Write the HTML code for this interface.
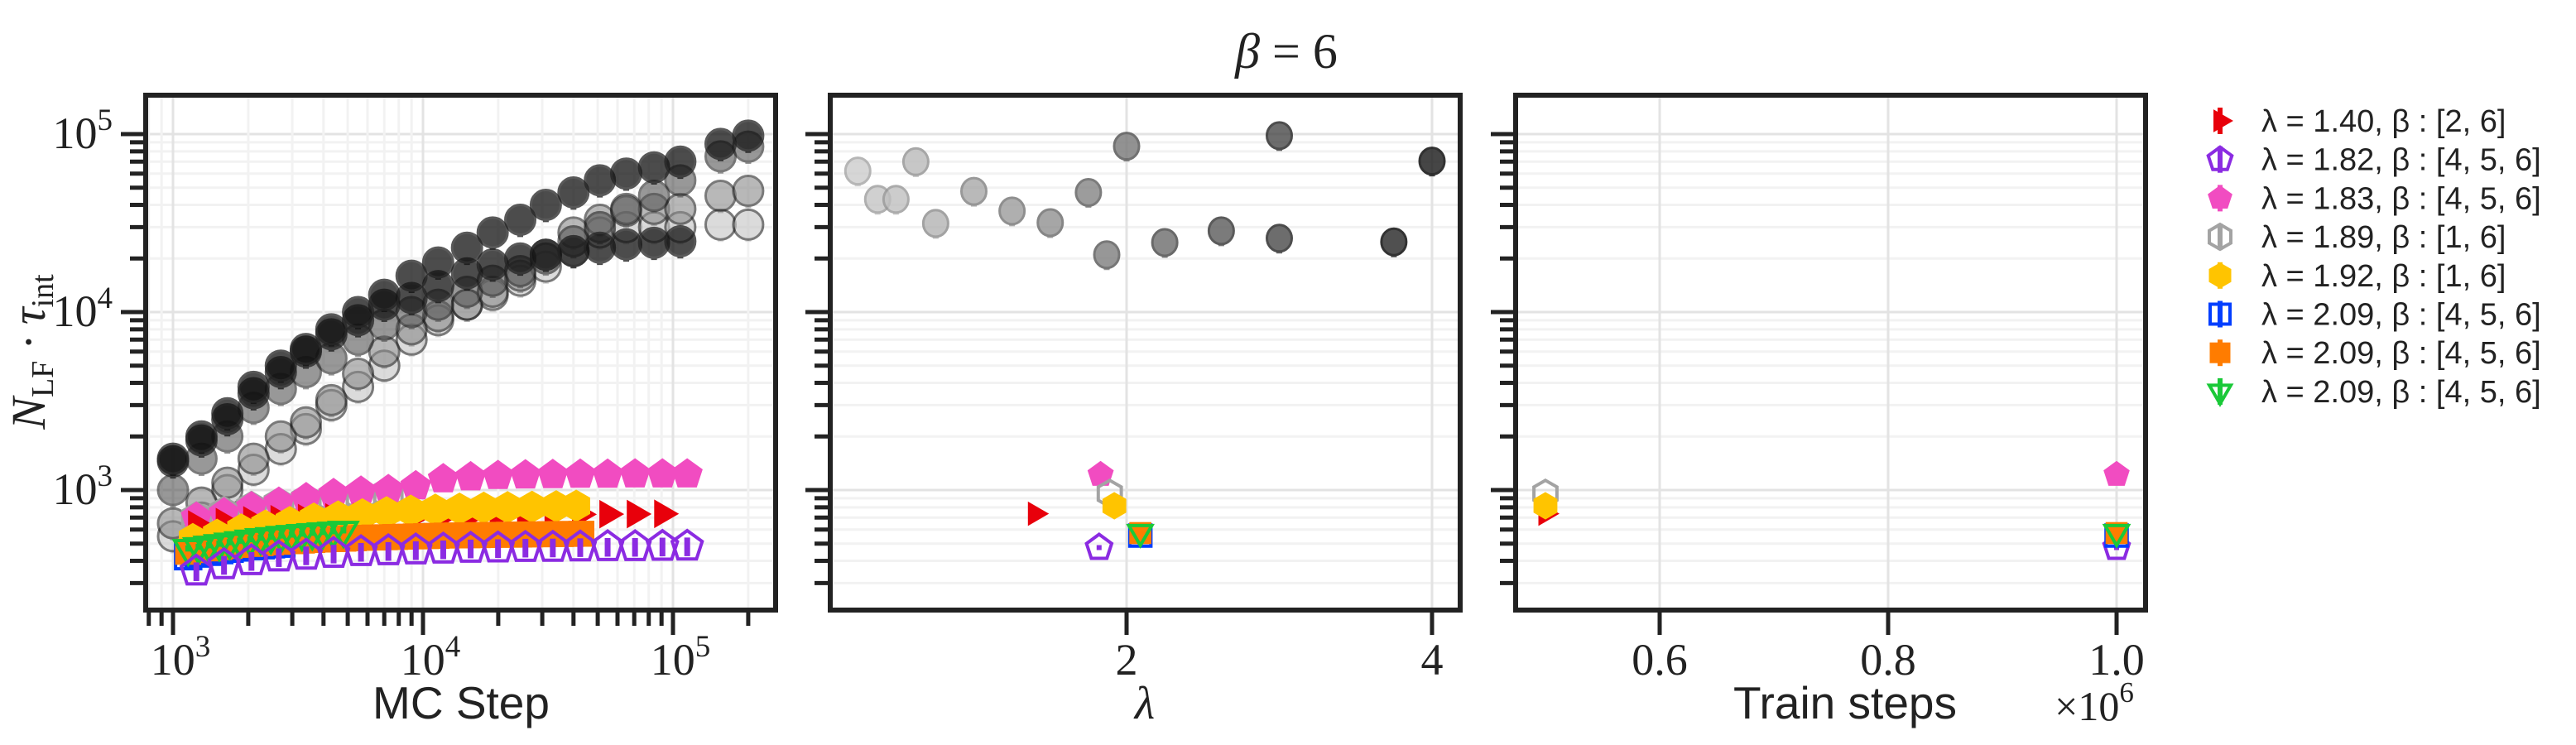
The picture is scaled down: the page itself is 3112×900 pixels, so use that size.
<!DOCTYPE html>
<html><head><meta charset="utf-8"><style>
html,body{margin:0;padding:0;background:#fff;}
svg{display:block;}
</style></head><body>
<svg id="fig" width="3112" height="900" viewBox="0 0 3112 900" xmlns="http://www.w3.org/2000/svg">
<rect width="3112" height="900" fill="#fff"/>
<g id="grid"></g>
<g id="marks"></g>
<g id="axes"></g>
<g id="legend"></g>
</svg>
<script>
// ---- data ----
const circX = [1000,1300,1650,2100,2700,3400,4300,5500,7000,9000,11500,15000,19000,24500,31000,40000,51000,65000,84000,107000,155000,200000];
const circA = [1500,2000,2700,3800,5000,6200,8000,10000,12500,16000,19000,23000,28000,33000,40000,47000,55000,60000,65000,70000,88000,98000];
const circB = [1450,1900,2500,3500,4600,6000,7500,9000,11000,12000,14000,16500,18500,20000,21000,22000,23000,24000,24500,25000];
const circC = [1000,1500,2000,2900,3700,4600,5500,7000,8500,10000,11000,13000,15000,17000,20000,25000,30000,38000,45000,55000,75000,85000];
const circD = [650,850,1100,1500,2000,2400,3200,4500,6000,8000,9500,11000,13000,16000,21000,28000,33000,37000,38000,38000,45000,48000];
const circE = [550,700,1000,1300,1700,2200,3000,3800,5000,7000,9000,11000,12500,15000,18000,22000,28000,30000,30000,30000,31000,31000];
const stepX = [1240,1600,2060,2650,3410,4390,5650,7270,9360,12050,15510,19960,25690,33060,42560,54780,70510,90760,114000];
const redY = [640,660,675,685,695,700,705,710,715,718,720,722,725,727,730,732,733,735];
const pinkY = [700,740,800,850,900,950,980,1000,1050,1150,1180,1200,1210,1215,1220,1220,1225,1225,1225];
const purpleY = [350,380,400,420,430,440,450,455,460,465,470,472,475,476,478,480,480,482,483];
const grayHexY = [690,740,790,830,870,900,930,960];
const yellowX = [1200,1500,1875,2340,2930,3660,4580,5720,7150,8940,11200,14000,17500,21800,27300,34100,41000];
const yellowY = [530,560,600,630,660,690,710,730,750,765,775,785,795,800,805,810,815];
const orangeX = [1150,1265,1392,1531,1684,1852,2037,2241,2465,2712,2983,3281,3609,3970,4367,4804,5284,5813,6394,7034,7737,8511,9362,10300,11330,12460,13700,15080,16580,18240,20070,22080,24280,26710,29380,32320,35550,39100,43010];
const orangeY = [450,460,470,478,485,492,498,503,508,512,516,520,524,527,530,533,536,539,541,543,545,547,549,551,553,555,556,557,558,559,560,561,562,563,564,565,566,567,568];
const greenY = [470,480,490,500,510,520,530,540,548,556,563,570,576,582,588,594];
const blueY = [425,440,450,460,468,476,484,490,496,500];
const lamGray = [0.24,0.37,0.49,0.62,0.75,1.0,1.25,1.5,1.75,1.87,2.0,2.25,2.62,3.0,3.0,3.75,4.0];
const valGray = [62000,43000,43000,70000,31500,47700,37000,31800,47000,21000,85500,24600,28600,26000,98000,24800,70500];
const seriesLam = [1.40,1.82,1.83,1.89,1.92,2.09,2.09,2.09];
const seriesVal = [736,475,1220,955,816,555,573,580];
const seriesTrain = [0.5,1.0,1.0,0.5,0.5,1.0,1.0,1.0];
const legendLabels = ["λ = 1.40, β : [2, 6]","λ = 1.82, β : [4, 5, 6]","λ = 1.83, β : [4, 5, 6]","λ = 1.89, β : [1, 6]","λ = 1.92, β : [1, 6]","λ = 2.09, β : [4, 5, 6]","λ = 2.09, β : [4, 5, 6]","λ = 2.09, β : [4, 5, 6]"];

// ---- scales ----
const P = [{l:176,r:937},{l:1003,r:1764},{l:1831,r:2592}];
const TOP=115, BOT=737;
const yS = v => 162 + 215*(5 - Math.log10(v));
const x1 = v => 209 + 302*Math.log10(v/1000);
const x2 = l => 1361 + 184.5*(l-2);
const x3 = t => 2557 + 1380*(t-1.0);
const NS="http://www.w3.org/2000/svg";
function mk(tag, attrs, parent){const e=document.createElementNS(NS,tag);for(const k in attrs)e.setAttribute(k,attrs[k]);parent.appendChild(e);return e;}
const G=document.getElementById('grid'), M=document.getElementById('marks'), A=document.getElementById('axes'), L=document.getElementById('legend');

const defs=mk('defs',{},document.getElementById('fig'));
P.forEach((p,i)=>{const c=mk('clipPath',{id:'c'+i},defs);mk('rect',{x:p.l,y:TOP,width:p.r-p.l,height:BOT-TOP},c);});

const yMaj=[1000,10000,100000], yMin=[];
for(let d=100;d<=100000;d*=10)for(let k=2;k<=9;k++){const v=k*d;if(yS(v)<BOT&&yS(v)>TOP)yMin.push(v);}
P.forEach((p,i)=>{
  const g=mk('g',{'clip-path':'url(#c'+i+')'},G);
  yMin.forEach(v=>mk('line',{x1:p.l,x2:p.r,y1:yS(v),y2:yS(v),stroke:'#f2f2f2','stroke-width':3},g));
  yMaj.forEach(v=>mk('line',{x1:p.l,x2:p.r,y1:yS(v),y2:yS(v),stroke:'#e3e3e3','stroke-width':3},g));
});
const g0=mk('g',{'clip-path':'url(#c0)'},G);
const xMin1=[];for(let d=100;d<=100000;d*=10)for(let k=2;k<=9;k++){const v=k*d;const px=x1(v);if(px>P[0].l&&px<P[0].r)xMin1.push(v);}
xMin1.forEach(v=>mk('line',{x1:x1(v),x2:x1(v),y1:TOP,y2:BOT,stroke:'#f2f2f2','stroke-width':3},g0));
[1000,10000,100000].forEach(v=>mk('line',{x1:x1(v),x2:x1(v),y1:TOP,y2:BOT,stroke:'#e3e3e3','stroke-width':3},g0));
[2,4].forEach(v=>mk('line',{x1:x2(v),x2:x2(v),y1:TOP,y2:BOT,stroke:'#e3e3e3','stroke-width':3},G));
[0.6,0.8,1.0].forEach(v=>mk('line',{x1:x3(v),x2:x3(v),y1:TOP,y2:BOT,stroke:'#e3e3e3','stroke-width':3},G));

// ---- markers ----
function poly(cx,cy,r,n,rot){let pts=[];for(let i=0;i<n;i++){const a=rot+i*2*Math.PI/n;pts.push((cx+r*Math.cos(a)).toFixed(1)+','+(cy+r*Math.sin(a)).toFixed(1));}return pts.join(' ');}
const STY=[
 {c:'#e8000b',shape:'tri',fill:true},
 {c:'#8b2be2',shape:'pent',fill:false},
 {c:'#f14cc1',shape:'pent',fill:true},
 {c:'#a3a3a3',shape:'hex',fill:false},
 {c:'#ffc400',shape:'hex',fill:true},
 {c:'#023eff',shape:'sq',fill:false},
 {c:'#ff7c00',shape:'sq',fill:true},
 {c:'#1ac938',shape:'tdn',fill:false}];
function marker(si,cx,cy,r,parent,name){
  const s=STY[si];
  const at={fill:s.fill?s.c:'none',stroke:s.c,'stroke-width':s.fill?1:4};
  let e;
  if(s.shape==='tri')e=mk('polygon',Object.assign({points:poly(cx,cy,r,3,0)},at),parent);
  else if(s.shape==='pent')e=mk('polygon',Object.assign({points:poly(cx,cy,r,5,-Math.PI/2)},at),parent);
  else if(s.shape==='hex')e=mk('polygon',Object.assign({points:poly(cx,cy,r,6,-Math.PI/2)},at),parent);
  else if(s.shape==='sq')e=mk('rect',Object.assign({x:cx-r*0.8,y:cy-r*0.8,width:r*1.6,height:r*1.6},at),parent);
  else e=mk('polygon',Object.assign({points:poly(cx,cy,r,3,Math.PI/2)},at),parent);
  
  
  if(s.shape==='pent'&&!s.fill)mk('rect',{x:cx-3,y:cy-3,width:6,height:6,fill:s.c},parent);
  return e;
}
function ebar(cx,v,f,col,parent){const a=yS(v*(1+f)),b=yS(v*(1-f));mk('line',{x1:cx,x2:cx,y1:a,y2:b,stroke:col,'stroke-width':7},parent);}

const circSets=[[circE,'#c4c4c4',0.6],[circD,'#8a8a8a',0.6],[circC,'#555',0.6],[circB,'#111',0.75],[circA,'#111',0.75]];
const m1=mk('g',{'clip-path':'url(#c0)'},M);
circSets.forEach((cs,k)=>{
  cs[0].forEach((v,i)=>{
    const cx=x1(circX[i]), cy=yS(v);
    const g=mk('g',{opacity:cs[2]},m1);
    ebar(cx,v,0.2,cs[1],g);
    const c=mk('circle',{cx:cx,cy:cy,r:18,fill:cs[1],stroke:'#222','stroke-width':3},g);
    
    
  });
});
function drawSeries(si,xs,ys,f){
  ys.forEach((v,i)=>{const cx=x1(xs[i]);ebar(cx,v,f,STY[si].c,m1);marker(si,cx,yS(v),19,m1,'series-'+si+'-point');});
}
drawSeries(3,stepX,grayHexY,0.1);
drawSeries(2,stepX,pinkY,0.05);
drawSeries(0,stepX,redY,0.03);
drawSeries(5,orangeX,blueY,0.05);
drawSeries(4,yellowX,yellowY,0.04);
drawSeries(6,orangeX,orangeY,0.04);
drawSeries(7,orangeX,greenY,0.04);
drawSeries(1,stepX,purpleY,0.12);

const m2=mk('g',{'clip-path':'url(#c1)'},M);
lamGray.forEach((l,i)=>{
  const lv=Math.round(215-(l/4)*190);const col='rgb('+lv+','+lv+','+lv+')';
  const cx=x2(l),cy=yS(valGray[i]);
  const g=mk('g',{opacity:0.8},m2);
  ebar(cx,valGray[i],0.18,col,g);
  const dk=Math.max(0,lv-40);
  const e=mk('ellipse',{cx:cx,cy:cy,rx:15,ry:16,fill:col,stroke:'rgb('+dk+','+dk+','+dk+')','stroke-width':3},g);
  
  
});
seriesLam.forEach((l,i)=>{marker(i,x2(l),yS(seriesVal[i]),16,m2,'lambda-series-'+i);});
const m3=mk('g',{'clip-path':'url(#c2)'},M);
[0,3,4,1,2,5,6,7].forEach(i=>{marker(i,x3(seriesTrain[i]),yS(seriesVal[i]),16,m3,'train-series-'+i);});

// ---- axes ----
const FR='#222';
P.forEach((p,i)=>{
  const r=mk('rect',{x:p.l,y:TOP,width:p.r-p.l,height:BOT-TOP,fill:'none',stroke:FR,'stroke-width':6},A);
  
  
  yMin.forEach(v=>mk('line',{x1:p.l-19,x2:p.l,y1:yS(v),y2:yS(v),stroke:FR,'stroke-width':5},A));
  yMaj.forEach(v=>mk('line',{x1:p.l-30,x2:p.l,y1:yS(v),y2:yS(v),stroke:FR,'stroke-width':5},A));
});
const serif='"Liberation Serif", "DejaVu Serif", serif', sans='"Liberation Sans", "DejaVu Sans", sans-serif';
function pow10(x,y,e,anchor,name){const t=mk('text',{x:x,y:y,'text-anchor':anchor,'font-family':serif,'font-size':54,fill:'#222'},A);t.textContent='10';const s=mk('tspan',{dy:-22,'font-size':37},t);s.textContent=e;}
[3,4,5].forEach(e=>pow10(136,yS(Math.pow(10,e))+17,e,'end','y-tick-label'));
xMin1.forEach(v=>mk('line',{x1:x1(v),x2:x1(v),y1:BOT,y2:BOT+19,stroke:FR,'stroke-width':5},A));
[3,4,5].forEach(e=>{const v=Math.pow(10,e);mk('line',{x1:x1(v),x2:x1(v),y1:BOT,y2:BOT+30,stroke:FR,'stroke-width':5},A);pow10(x1(v)+9,815,e,'middle','x-tick-label');});
[2,4].forEach(v=>{mk('line',{x1:x2(v),x2:x2(v),y1:BOT,y2:BOT+30,stroke:FR,'stroke-width':5},A);const t=mk('text',{x:x2(v),y:815,'text-anchor':'middle','font-family':serif,'font-size':54,fill:'#222'},A);t.textContent=v;});
[0.6,0.8,1.0].forEach(v=>{mk('line',{x1:x3(v),x2:x3(v),y1:BOT,y2:BOT+30,stroke:FR,'stroke-width':5},A);const t=mk('text',{x:x3(v),y:815,'text-anchor':'middle','font-family':serif,'font-size':54,fill:'#222'},A);t.textContent=v.toFixed(1);});
function txt(x,y,s,fs,fam,name,extra){const t=mk('text',Object.assign({x:x,y:y,'text-anchor':'middle','font-family':fam,'font-size':fs,fill:'#222'},extra||{}),A);t.textContent=s;return t;}
txt(557,868,'MC Step',55,sans,'x-axis-title-mc-step');
txt(1383,868,'λ',56,serif,'x-axis-title-lambda',{'font-style':'italic'});
txt(2229,868,'Train steps',55,sans,'x-axis-title-train-steps');
const sc=txt(2530,870,'×10',50,serif,'x-scale-multiplier');const sct=mk('tspan',{dy:-22,'font-size':35},sc);sct.textContent='6';
const tt=txt(1554,82,'',60,serif,'figure-title');
tt.innerHTML='<tspan font-style="italic">β</tspan> = 6';
const yl=mk('text',{x:0,y:0,'text-anchor':'middle','font-family':serif,'font-size':58,fill:'#222','font-style':'italic',transform:'translate(54,425) rotate(-90)'},A);

yl.innerHTML='N<tspan dy="10" font-size="38" font-style="normal">LF</tspan><tspan dy="-10"> · τ</tspan><tspan dy="10" font-size="38" font-style="normal">int</tspan>';

// ---- legend ----
legendLabels.forEach((s,i)=>{
  const y=146+i*46.7;
  const g=mk('g',{},L);
  
  
  mk('line',{x1:2682,x2:2682,y1:y-16,y2:y+16,stroke:STY[i].c,'stroke-width':6},g);
  marker(i,2682,y,15,g,'legend-marker');
  const t=mk('text',{x:2732,y:y+13,'font-family':sans,'font-size':38,fill:'#222'},g);
  t.textContent=s;
  
  
});
</script>
</body></html>
